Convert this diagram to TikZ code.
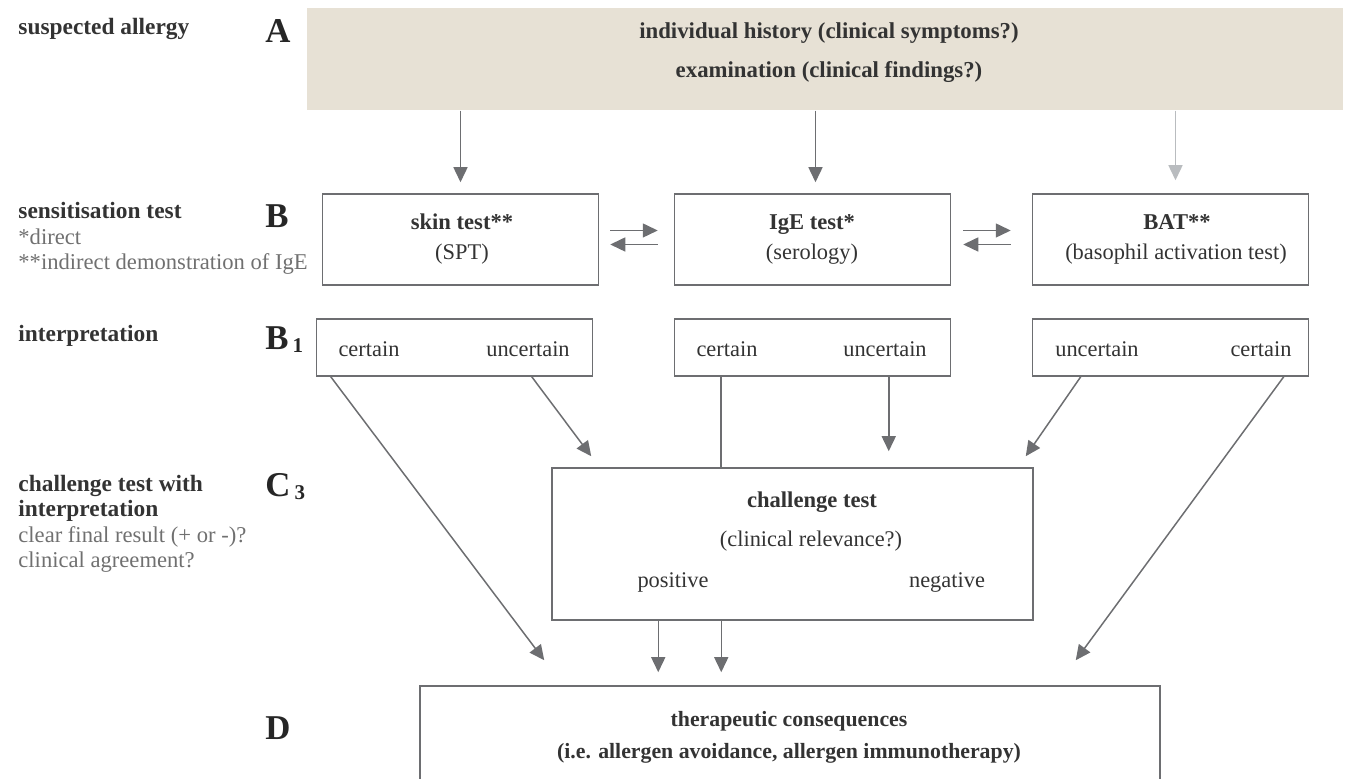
\documentclass[tikz,border=0pt]{standalone}
\usepackage{fontspec}
\setmainfont{Liberation Serif}
\usetikzlibrary{arrows.meta,calc}

\definecolor{beige}{HTML}{E7E1D5}
\definecolor{linegray}{HTML}{6D6E71}
\definecolor{palegray}{HTML}{B9BCBF}
\definecolor{textdark}{HTML}{333333}
\definecolor{textgray}{HTML}{707070}

\tikzset{
  box/.style={draw=linegray, line width=0.75pt, minimum width=138pt, inner sep=0pt},
  arr/.style={draw=linegray, line width=0.75pt, -{Triangle[length=7.5pt,width=7pt]}},
  conn/.style={draw=linegray, line width=0.75pt},
  txt/.style={anchor=base, inner sep=0pt, text=textdark, font=\fontsize{11.2}{13}\selectfont},
  bold/.style={txt, font=\fontsize{11.3}{13}\selectfont\bfseries},
  lbl/.style={anchor=base west, inner sep=0pt, text=textdark, font=\fontsize{11.7}{13}\selectfont\bfseries},
  note/.style={anchor=base west, inner sep=0pt, text=textgray, font=\fontsize{11.3}{13}\selectfont},
  stage/.style={anchor=base west, inner sep=0pt, text=black!85, font=\fontsize{17.4}{18}\selectfont\bfseries}
}

\newcommand{\stagesub}[1]{\raisebox{-1.2pt}{\fontsize{10.5}{10.5}\selectfont #1}}

\begin{document}
\begin{tikzpicture}[x=0.5pt, y=-0.5pt]
    \useasboundingbox (0,0) rectangle (1346,779);

    % row labels
    \node[lbl] (lblA) at (18,35) {suspected allergy};
    \node[stage] (stA) at (265,43) {A};
    \node[lbl] (lblB) at (18,219) {sensitisation test};
    \node[note] (noteB1) at (18,245) {*direct};
    \node[note] (noteB2) at (18,270) {**indirect demonstration of IgE};
    \node[stage] (stB) at (265,228) {B};
    \node[lbl] (lblBI) at (18,342) {interpretation};
    \node[stage] (stBI) at (265,350) {B\kern2pt\stagesub{1}};
    \node[lbl] (lblC1) at (18,492) {challenge test with};
    \node[lbl] (lblC2) at (18,517) {interpretation};
    \node[note] (noteC1) at (18,543) {clear final result (+ or -)?};
    \node[note] (noteC2) at (18,568) {clinical agreement?};
    \node[stage] (stC) at (265,497) {C\kern2pt\stagesub{3}};
    \node[stage] (stD) at (265,740) {D};

    % A: history
    \node[box, fill=beige, draw=none, minimum width=518pt, minimum height=51pt] (hist) at (825,59) {};
    \node[bold, font=\fontsize{11.4}{13}\selectfont\bfseries] (histA) at (829,39) {individual history (clinical symptoms?)};
    \node[bold, font=\fontsize{11.4}{13}\selectfont\bfseries] (histB) at (829,78) {examination (clinical findings?)};

    % B: sensitisation tests
    \node[box, minimum height=45.5pt] (skin) at (460.5,239.5) {};
    \node[box, minimum height=45.5pt] (ige) at (812.5,239.5) {};
    \node[box, minimum height=45.5pt] (bat) at (1170.5,239.5) {};
    \node[bold] (skinA) at (462,230) {skin test**};
    \node[txt] (skinB) at (462,260) {(SPT)};
    \node[bold] (igeA) at (812,230) {IgE test*};
    \node[txt] (igeB) at (812,260) {(serology)};
    \node[bold] (batA) at (1177,230) {BAT**};
    \node[txt] (batB) at (1176,260) {(basophil activation test)};

    % B1: interpretation
    \node[box, minimum height=28.5pt] (skinI) at (454.5,347.5) {};
    \node[box, minimum height=28.5pt] (igeI) at (812.5,347.5) {};
    \node[box, minimum height=28.5pt] (batI) at (1170.5,347.5) {};
    \node[txt] (skinC) at (369,357) {certain};
    \node[txt] (skinU) at (528,357) {uncertain};
    \node[txt] (igeC) at (727,357) {certain};
    \node[txt] (igeU) at (885,357) {uncertain};
    \node[txt] (batU) at (1097,357) {uncertain};
    \node[txt] (batC) at (1261,357) {certain};

    % C3: challenge
    \node[box, minimum width=240.5pt, minimum height=76pt] (chal) at (792.5,544) {};
    \node[bold] (chalA) at (812,508) {challenge test};
    \node[txt] (chalB) at (811,547) {(clinical relevance?)};
    \node[txt] (chalP) at (673,588) {positive};
    \node[txt] (chalN) at (947,588) {negative};

    % D: consequences
    \node[box, minimum width=370pt, minimum height=72pt] (cons) at (790,758) {};
    \node[bold, font=\fontsize{10.9}{13}\selectfont\bfseries] (consA) at (789,727) {therapeutic consequences};
    \node[bold, font=\fontsize{10.9}{13}\selectfont\bfseries] (consB) at (789,759) {(i.e. allergen avoidance, allergen immunotherapy)};

    % connectors A -> B
    \draw[arr, shorten >=5.5pt] (hist.south -| skin.north) -- (skin.north);
    \draw[arr, shorten >=5.5pt] ($(hist.south -| ige.north)+(3,0)$) -- ($(ige.north)+(3,0)$);
    \draw[arr, draw=palegray, shorten >=6.5pt] ($(hist.south -| bat.north)+(5,0)$) -- ($(bat.north)+(5,0)$);

    % B <-> B
    \draw[arr, shorten <=5.5pt, shorten >=8pt] ($(skin.east)+(0,-9)$) -- ($(skin.east -| ige.west)+(0,-9)$);
    \draw[arr, shorten <=8pt, shorten >=5.5pt] ($(skin.east -| ige.west)+(0,5)$) -- ($(skin.east)+(0,5)$);
    \draw[arr, shorten <=6pt, shorten >=10.5pt] ($(ige.east)+(0,-9)$) -- ($(ige.east -| bat.west)+(0,-9)$);
    \draw[arr, shorten <=10.5pt, shorten >=6pt] ($(ige.east -| bat.west)+(0,5)$) -- ($(ige.east)+(0,5)$);

    % B1 -> C3 / D
    \coordinate (tipL) at ($(cons.north west)+(125,-25)$);
    \coordinate (tipR) at ($(cons.north east)+(-85,-25)$);
    \draw[arr] ($(skinI.south west)+(15,0)$) -- (tipL);
    \draw[arr] ($(skinI.south west)+(216,0)$) -- ($(chal.north west)+(40,-11)$);
    \draw[conn] ($(igeI.south west)+(47,0)$) coordinate (igeCx) -- (igeCx |- chal.north);
    \draw[arr, shorten >=8pt] ($(igeI.south west)+(215,0)$) coordinate (igeUx) -- (igeUx |- chal.north);
    \draw[arr] ($(batI.south west)+(49,0)$) -- ($(chal.north east)+(-8,-11)$);
    \draw[arr] ($(batI.south west)+(252,0)$) -- (tipR);

    % C3 -> D
    \draw[arr, shorten >=6.5pt] ($(chal.south west)+(107,0)$) coordinate (posx) -- (posx |- cons.north);
    \draw[arr, shorten >=6.5pt] ($(chal.south west)+(170,0)$) coordinate (negx) -- (negx |- cons.north);
\end{tikzpicture}
\end{document}
